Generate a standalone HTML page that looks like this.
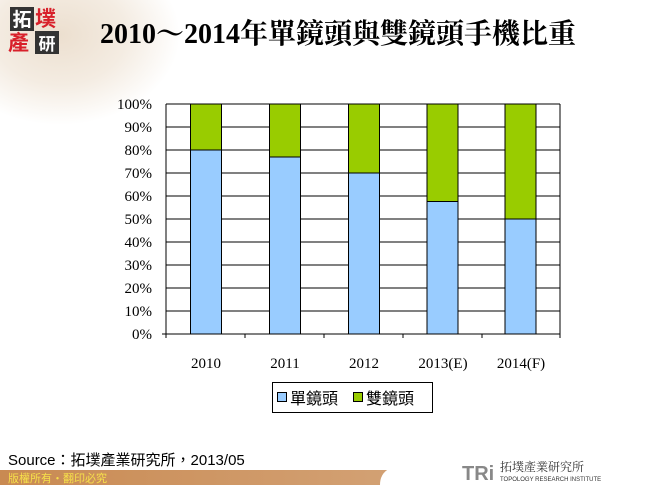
<!DOCTYPE html>
<html><head><meta charset="utf-8"><style>
body{margin:0;width:650px;height:485px;overflow:hidden;background:#fff;position:relative;font-family:"Liberation Serif","Noto Serif CJK SC",serif}
.abs{position:absolute}
</style></head><body>
<div class="abs" style="left:0;top:0;width:200px;height:130px;background:radial-gradient(ellipse 120px 90px at 60px 35px,#ecdfcf 0%,#f4ece2 55%,rgba(255,255,255,0) 100%)"></div>
<div class="abs" style="left:10px;top:7px;width:24px;height:24px;background:#333;color:#fff;font:bold 19px 'Noto Sans CJK TC',sans-serif;line-height:24px;text-align:center">拓</div>
<div class="abs" style="left:35px;top:5px;font:bold 21px/26px 'Noto Sans CJK TC',sans-serif;color:#d8202a">墣</div>
<div class="abs" style="left:8px;top:29px;font:bold 21px/26px 'Noto Sans CJK TC',sans-serif;color:#d8202a">產</div>
<div class="abs" style="left:35px;top:31px;width:24px;height:23px;background:#333;color:#fff;font:bold 17px 'Noto Sans CJK TC',sans-serif;line-height:23px;text-align:center">研</div>
<div class="abs" style="left:100px;top:12px;font-weight:bold;font-size:28px;font-family:'Liberation Serif','Noto Serif CJK SC',serif;white-space:nowrap">2010～2014年單鏡頭與雙鏡頭手機比重</div>
<svg class="abs" style="left:0;top:0" width="650" height="485">
<g stroke="#000" stroke-width="1">
<line x1="166" y1="104" x2="560" y2="104"/><line x1="166" y1="127" x2="560" y2="127"/><line x1="166" y1="150" x2="560" y2="150"/><line x1="166" y1="173" x2="560" y2="173"/><line x1="166" y1="196" x2="560" y2="196"/><line x1="166" y1="219" x2="560" y2="219"/><line x1="166" y1="242" x2="560" y2="242"/><line x1="166" y1="265" x2="560" y2="265"/><line x1="166" y1="288" x2="560" y2="288"/><line x1="166" y1="311" x2="560" y2="311"/>
<line x1="166" y1="104" x2="166" y2="334"/><line x1="560" y1="104" x2="560" y2="338"/>
<line x1="162" y1="334" x2="560" y2="334"/>
<line x1="245" y1="334" x2="245" y2="338"/><line x1="324" y1="334" x2="324" y2="338"/><line x1="403" y1="334" x2="403" y2="338"/><line x1="482" y1="334" x2="482" y2="338"/><line x1="166" y1="334" x2="166" y2="338"/>
<rect x="190.5" y="150" width="31" height="184" fill="#99ccff"/><rect x="190.5" y="104" width="31" height="46" fill="#99cc00"/>
<rect x="269.5" y="157" width="31" height="177" fill="#99ccff"/><rect x="269.5" y="104" width="31" height="53" fill="#99cc00"/>
<rect x="348.5" y="173" width="31" height="161" fill="#99ccff"/><rect x="348.5" y="104" width="31" height="69" fill="#99cc00"/>
<rect x="427" y="201.5" width="31" height="132.5" fill="#99ccff"/><rect x="427" y="104" width="31" height="97.5" fill="#99cc00"/>
<rect x="505" y="219" width="31" height="115" fill="#99ccff"/><rect x="505" y="104" width="31" height="115" fill="#99cc00"/>
</g>
<g font-family="Liberation Serif" font-size="15" text-anchor="end">
<text x="152" y="109">100%</text><text x="152" y="132">90%</text><text x="152" y="155">80%</text><text x="152" y="178">70%</text><text x="152" y="201">60%</text><text x="152" y="224">50%</text><text x="152" y="247">40%</text><text x="152" y="270">30%</text><text x="152" y="293">20%</text><text x="152" y="316">10%</text><text x="152" y="339">0%</text>
</g>
<g font-family="Liberation Serif" font-size="15" text-anchor="middle">
<text x="206" y="368">2010</text><text x="285" y="368">2011</text><text x="364" y="368">2012</text><text x="443" y="368">2013(E)</text><text x="521" y="368">2014(F)</text>
</g>
<rect x="272.5" y="382.5" width="160" height="30" fill="#fff" stroke="#000"/>
<rect x="277.5" y="392.5" width="9" height="9" fill="#99ccff" stroke="#000"/>
<rect x="353.5" y="392.5" width="9" height="9" fill="#99cc00" stroke="#000"/>
<g font-family="Noto Sans CJK TC,sans-serif" font-size="16"><text x="290" y="404">單鏡頭</text><text x="366" y="404">雙鏡頭</text></g>
<text x="8" y="465" font-family="Liberation Sans,Noto Sans CJK TC,sans-serif" font-size="15">Source：拓墣產業研究所，2013/05</text>
<defs><linearGradient id="f" x1="0" x2="1"><stop offset="0" stop-color="#c98a52"/><stop offset="1" stop-color="#d9b08a"/></linearGradient></defs>
<rect x="0" y="470" width="650" height="15" fill="url(#f)"/>
<path d="M380 485 Q380 468 400 466 L650 466 L650 485Z" fill="#fff"/>
<text x="8" y="482" font-family="Noto Sans CJK TC,sans-serif" font-size="11" fill="#f6e04a">版權所有‧翻印必究</text>
<text x="462" y="480" font-family="Liberation Sans" font-weight="bold" font-size="20" fill="#888">TRi</text>
<text x="500" y="471" font-family="Noto Serif CJK SC,serif" font-size="12" fill="#333">拓墣產業研究所</text>
<text x="500" y="481" font-family="Liberation Sans" font-size="6" fill="#333">TOPOLOGY RESEARCH INSTITUTE</text>
</svg>
</body></html>
